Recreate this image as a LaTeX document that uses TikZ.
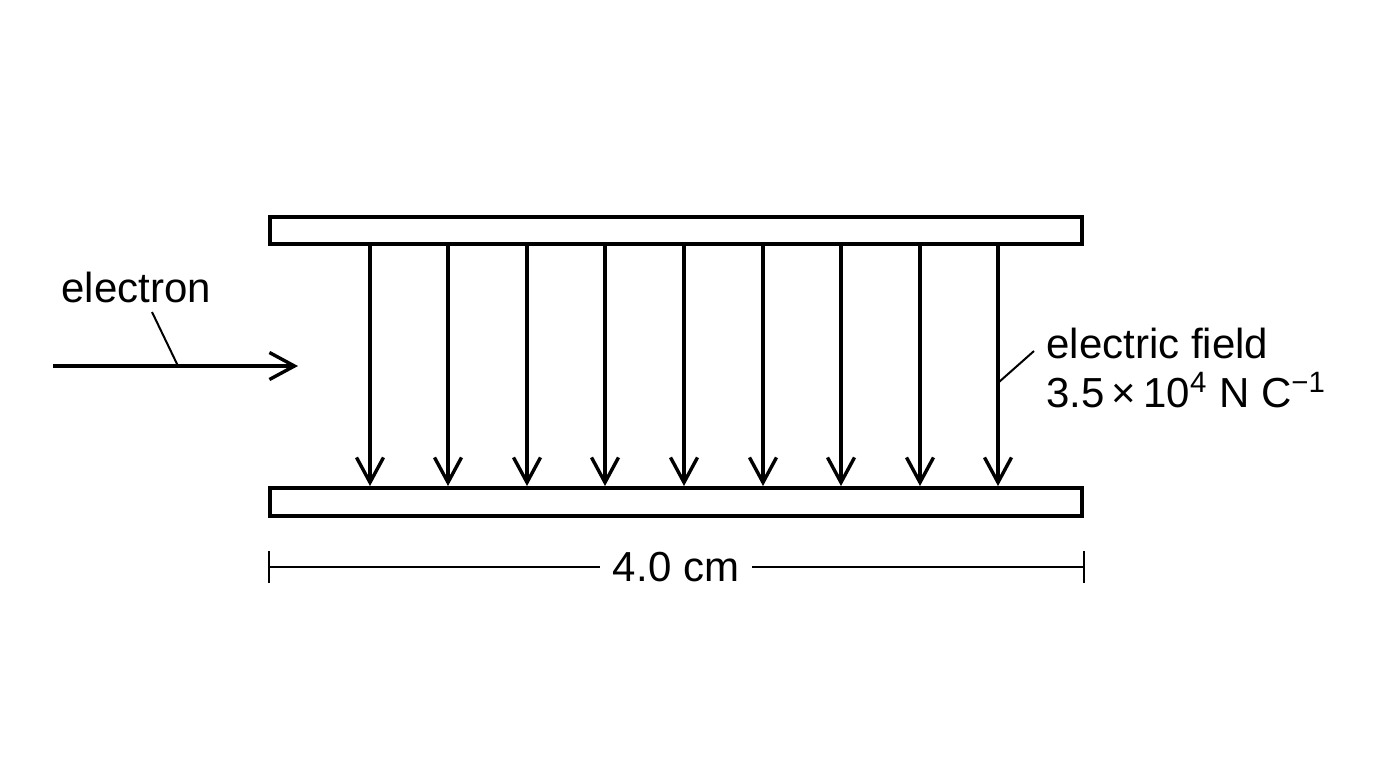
\documentclass[tikz,border=0pt]{standalone}
\usepackage{fontspec}
\setmainfont{Liberation Sans}
\usetikzlibrary{arrows.meta}
\begin{document}
\begin{tikzpicture}[x=0.5pt,y=-0.5pt,
  plate/.style={draw=black,line width=2.1pt,fill=white},
  fieldarrow/.style={line width=1.7pt,-{Straight Barb[length=12.5pt,width=13.5pt,line width=1.7pt]}},
  leader/.style={line width=1pt},
  dimline/.style={line width=1pt},
  lbl/.style={font=\fontsize{21}{25}\selectfont,inner sep=0pt}]
\useasboundingbox (0,0) rectangle (1376,768);
\fill[white] (0,0) rectangle (1376,768);
% plates
\draw[plate] (270,217) rectangle (1082,244);
\draw[plate] (270,488) rectangle (1082,516);
% field arrows
\foreach \i/\x in {1/370,2/448,3/527,4/605,5/684,6/763,7/841,8/920,9/998}{
  \coordinate (t\i) at (\x,245);
  \coordinate (b\i) at (\x,486);
  \draw[fieldarrow] (t\i) -- (b\i);
}
% electron
\coordinate (e0) at (53,366);
\coordinate (e1) at (298,366);
\draw[fieldarrow] (e0) -- (e1);
\node[lbl,anchor=west] (elec) at (61,287) {electron};
\coordinate (el1) at (152,312);
\coordinate (el2) at (178,366);
\draw[leader] (el1) -- (el2);
% field label
\node[lbl,anchor=west] (ef) at (1046,343) {electric field};
\node[lbl,anchor=west] (ev) at (1046,390) {3.5\,×\,10\textsuperscript{4} N C\textsuperscript{−1}};
\coordinate (fl1) at (999,382);
\coordinate (fl2) at (1034,351);
\draw[leader] (fl1) -- (fl2);
% dimension
\node[lbl] (dim) at (676,567) {4.0 cm};
\coordinate (dl) at (269,567);
\coordinate (dr) at (1084,567);
\draw[dimline] (dl) -- (600,567);
\draw[dimline] (752,567) -- (dr);
\draw[dimline] (269,551) -- (269,583);
\draw[dimline] (1084,551) -- (1084,583);
\end{tikzpicture}
\end{document}
